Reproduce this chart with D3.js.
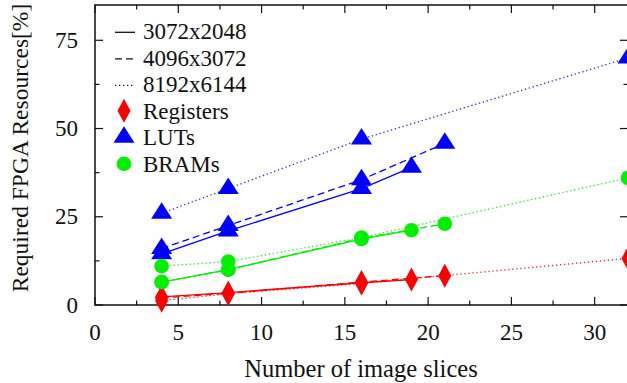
<!DOCTYPE html>
<html>
<head>
<meta charset="utf-8">
<script src="https://cdn.jsdelivr.net/npm/d3@7"></script>
<style>
  body { margin: 0; background: #fff; }
  svg { display: block; }
  text { font-family: "Liberation Serif", "DejaVu Serif", serif; fill: #111; }
</style>
</head>
<body>
<svg width="627" height="383"></svg>
<script>
// image sizes, one line style each
var resolutions = ["3072x2048", "4096x3072", "8192x6144"];
var dashes = [null, "7,4", "1.3,2.7"];

// number of image slices per image size
var slices3072 = [4, 8, 16, 19];
var slices4096 = [4, 8, 16, 21];
var slices8192 = [4, 8, 16, 32];

// required resources in percent
var registers3072 = [2.3, 3.5, 6.3, 7.2];
var registers4096 = [2.0, 3.3, 6.5, 8.3];
var registers8192 = [1.2, 3.2, 6.1, 13.2];
var luts3072 = [14.5, 21, 33, 39];
var luts4096 = [16, 22.5, 35.5, 45.8];
var luts8192 = [26, 33, 47, 70];
var brams3072 = [6.5, 10, 18.7, 21.2];
var brams4096 = [6.5, 10, 18.9, 23];
var brams8192 = [11, 12.3, 19.1, 36];

var xTicks = [0, 5, 10, 15, 20, 25, 30];
var yTicks = [0, 25, 50, 75];

var slices = [slices3072, slices4096, slices8192];
var resources = [
  {name: "Registers", color: "#ff0000", shape: "diamond", values: [registers3072, registers4096, registers8192]},
  {name: "LUTs", color: "#0000ff", shape: "triangle", values: [luts3072, luts4096, luts8192]},
  {name: "BRAMs", color: "#00f000", shape: "circle", values: [brams3072, brams4096, brams8192]}
];

var svg = d3.select("svg");
var pLeft = 95, pRight = 628, pTop = 5, pBottom = 305;

var x = d3.scaleLinear().domain([0, 32]).range([pLeft, pRight]);
var y = d3.scaleLinear().domain([0, 85]).range([pBottom, pTop]);

// marker shapes like gnuplot's filled points
var shapes = {
  diamond: {draw: function(c) { c.moveTo(0, -12); c.lineTo(6.5, 0); c.lineTo(0, 12); c.lineTo(-6.5, 0); c.closePath(); }},
  triangle: {draw: function(c) { c.moveTo(0, -11); c.lineTo(10.5, 5.5); c.lineTo(-10.5, 5.5); c.closePath(); }},
  circle: {draw: function(c) { c.moveTo(7.3, 0); c.arc(0, 0, 7.3, 0, 2 * Math.PI); }}
};

// axes: ticks point inward, mirrored on top and right
var g = svg.append("g");
d3.range(0, 33, 2.5).forEach(function(t) {
  var len = t % 5 === 0 ? 8 : 4.5;
  g.append("line").attr("x1", x(t)).attr("x2", x(t)).attr("y1", pBottom).attr("y2", pBottom - len);
  g.append("line").attr("x1", x(t)).attr("x2", x(t)).attr("y1", pTop).attr("y2", pTop + len);
});
d3.range(0, 86, 12.5).forEach(function(t) {
  var len = t % 25 === 0 ? 8 : 4.5;
  g.append("line").attr("y1", y(t)).attr("y2", y(t)).attr("x1", pLeft).attr("x2", pLeft + len);
  g.append("line").attr("y1", y(t)).attr("y2", y(t)).attr("x1", pRight).attr("x2", pRight - len);
});
g.selectAll("line").attr("stroke", "#111").attr("stroke-width", 1.2);
g.append("rect").attr("x", pLeft).attr("y", pTop).attr("width", pRight - pLeft).attr("height", pBottom - pTop)
  .attr("fill", "none").attr("stroke", "#111").attr("stroke-width", 1.5);

g.selectAll(".xl").data(xTicks).enter().append("text")
  .attr("x", function(d) { return x(d); }).attr("y", 340)
  .attr("text-anchor", "middle").style("font-size", "23px").text(function(d) { return d; });
g.selectAll(".yl").data(yTicks).enter().append("text")
  .attr("x", 78).attr("y", function(d) { return y(d) + 7.5; })
  .attr("text-anchor", "end").style("font-size", "23px").text(function(d) { return d; });

svg.append("text").attr("x", 361).attr("y", 377).attr("text-anchor", "middle")
  .style("font-size", "24.5px").text("Number of image slices");
svg.append("text").attr("transform", "translate(28,148) rotate(-90)").attr("text-anchor", "middle")
  .style("font-size", "23.5px").text("Required FPGA Resources[%]");

// data lines and points
var line = d3.line().x(function(d) { return x(d[0]); }).y(function(d) { return y(d[1]); });
var plot = svg.append("g");
resources.forEach(function(r) {
  r.values.forEach(function(vals, i) {
    var pts = slices[i].map(function(s, j) { return [s, vals[j]]; });
    plot.append("path").datum(pts).attr("d", line)
      .attr("fill", "none").attr("stroke", r.color).attr("stroke-width", i === 2 ? 1.4 : 1.3)
      .attr("stroke-opacity", i === 2 ? 0.8 : 1)
      .attr("stroke-dasharray", dashes[i]);
    plot.selectAll(null).data(pts).enter().append("path")
      .attr("transform", function(d) { return "translate(" + x(d[0]) + "," + y(d[1]) + ")"; })
      .attr("d", d3.symbol(shapes[r.shape]))
      .attr("fill", r.color);
  });
});

// legend
var legend = svg.append("g");
resolutions.forEach(function(name, i) {
  var by = 39.3 + i * 26.5;
  legend.append("line").attr("x1", 115).attr("x2", 135).attr("y1", by - 7).attr("y2", by - 7)
    .attr("stroke", "#111").attr("stroke-width", 1.3).attr("stroke-dasharray", dashes[i]);
  legend.append("text").attr("x", 143).attr("y", by).style("font-size", "23px").text(name);
});
resources.forEach(function(r, i) {
  var by = 39.3 + (i + 3) * 26.5;
  legend.append("path").attr("transform", "translate(124," + (by - 8) + ")")
    .attr("d", d3.symbol(shapes[r.shape])).attr("fill", r.color);
  legend.append("text").attr("x", 143).attr("y", by).style("font-size", "23px").text(r.name);
});
</script>
</body>
</html>
